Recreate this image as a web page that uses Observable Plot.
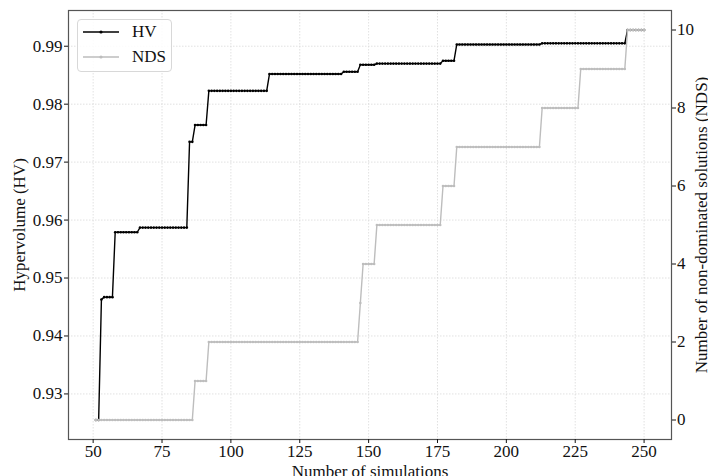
<!DOCTYPE html>
<html>
<head>
<meta charset="utf-8">
<script src="https://cdn.jsdelivr.net/npm/d3@7"></script>
<script src="https://cdn.jsdelivr.net/npm/@observablehq/plot@0.6"></script>
<style>
  html, body { margin: 0; padding: 0; background: #fff; }
  #wrap { position: relative; width: 708px; height: 476px; font-family: "Liberation Serif", "DejaVu Serif", serif; }
  #legend { position: absolute; left: 77px; top: 19px; width: 93px; height: 51px; border: 1px solid #d8d8d8; border-radius: 4px; background: rgba(255,255,255,0.85); font-size: 17px; color: #111; }
  .row { position: absolute; left: 0; width: 93px; height: 20px; }
  .row svg { position: absolute; left: 5px; top: 5px; }
  .row span { position: absolute; left: 54px; top: 0; line-height: 20px; }
</style>
</head>
<body>
<div id="wrap"></div>
<script>
// ---- data ----
const simFirst = 51;
const simLast = 250;
// Hypervolume: step values, each holding from its start simulation
const hvStart = [51, 53, 54, 58, 67, 85, 87, 92, 114, 141, 147, 153, 177, 182, 213, 244];
const hvValue = [0.9255, 0.9463, 0.9467, 0.9579, 0.9587, 0.9735, 0.9764, 0.9823, 0.9852, 0.9856, 0.9868, 0.9870, 0.9875, 0.9903, 0.9905, 0.9928];
// Number of non-dominated solutions
const ndsStart = [51, 87, 92, 147, 148, 153, 177, 182, 213, 227, 244];
const ndsValue = [0, 1, 2, 3, 4, 5, 6, 7, 8, 9, 10];
// ticks
const xTicks = [50, 75, 100, 125, 150, 175, 200, 225, 250];
const hvTicks = [0.93, 0.94, 0.95, 0.96, 0.97, 0.98, 0.99];
const ndsTicks = [0, 2, 4, 6, 8, 10];

// ---- build per-simulation table from the step runs ----
function stepAt(starts, values, n) {
  let v = values[0];
  for (let i = 0; i < starts.length; i++) if (starts[i] <= n) v = values[i];
  return v;
}
const table = d3.range(simFirst, simLast + 1).map(n => ({
  sim: n,
  hv: stepAt(hvStart, hvValue, n),
  nds: stepAt(ndsStart, ndsValue, n)
}));

function padded(lo, hi) { const m = (hi - lo) * 0.05; return [lo - m, hi + m]; }
const xDom = padded(simFirst, simLast);
const hvDom = padded(d3.min(hvValue), d3.max(hvValue));
const ndsDom = padded(d3.min(ndsValue), d3.max(ndsValue));
const toHv = v => hvDom[0] + (v - ndsDom[0]) / (ndsDom[1] - ndsDom[0]) * (hvDom[1] - hvDom[0]);
const fromHv = v => ndsDom[0] + (v - hvDom[0]) / (hvDom[1] - hvDom[0]) * (ndsDom[1] - ndsDom[0]);
table.forEach(d => d.ndsY = toHv(d.nds));

const gridStyle = { stroke: "#d9d9d9", strokeOpacity: 1, strokeWidth: 0.8, strokeDasharray: "1.5,1.5" };

const chart = Plot.plot({
  width: 708,
  height: 476,
  marginLeft: 68,
  marginRight: 37,
  marginTop: 10,
  marginBottom: 37,
  style: { fontFamily: "Liberation Serif, DejaVu Serif, serif", fontSize: "17px", color: "#111", background: "#fff" },
  x: { domain: xDom },
  y: { domain: hvDom },
  marks: [
    Plot.gridX(xTicks, gridStyle),
    Plot.gridY(hvTicks, gridStyle),
    Plot.line(table, { x: "sim", y: "hv", stroke: "#000", strokeWidth: 1.4 }),
    Plot.dot(table, { x: "sim", y: "hv", r: 1.3, fill: "#000", stroke: "none" }),
    Plot.line(table, { x: "sim", y: "ndsY", stroke: "#bdbdbd", strokeWidth: 1.4 }),
    Plot.dot(table, { x: "sim", y: "ndsY", r: 1.3, fill: "#bdbdbd", stroke: "none" }),
    Plot.frame({ stroke: "#555", strokeWidth: 1.2 }),
    Plot.axisX(xTicks, { anchor: "bottom", tickSize: 4, tickPadding: 1.5, label: "Number of simulations", labelAnchor: "center", labelArrow: "none", labelOffset: 37.5, tickFormat: d => String(d) }),
    Plot.axisY(hvTicks, { anchor: "left", tickSize: 4, tickPadding: 2, label: "Hypervolume (HV)", labelAnchor: "center", labelArrow: "none", labelOffset: 56, tickFormat: d => d.toFixed(2) }),
    Plot.axisY(ndsTicks.map(toHv), { anchor: "right", tickSize: 4, tickPadding: 1.5, label: "Number of non-dominated solutions (NDS)", labelAnchor: "center", labelArrow: "none", labelOffset: 35, tickFormat: d => String(Math.round(fromHv(d))) })
  ]
});

const wrap = document.getElementById("wrap");
wrap.appendChild(chart);

// legend
const legend = document.createElement("div");
legend.id = "legend";
const series = [
  { name: "HV", color: "#000" },
  { name: "NDS", color: "#bdbdbd" }
];
series.forEach((s, i) => {
  const row = document.createElement("div");
  row.className = "row";
  row.style.top = (2 + i * 25) + "px";
  row.innerHTML = `<svg width="36" height="10"><line x1="0" y1="5" x2="36" y2="5" stroke="${s.color}" stroke-width="1.4"/><circle cx="18" cy="5" r="1.6" fill="${s.color}"/></svg><span>${s.name}</span>`;
  legend.appendChild(row);
});
wrap.appendChild(legend);
</script>
</body>
</html>
